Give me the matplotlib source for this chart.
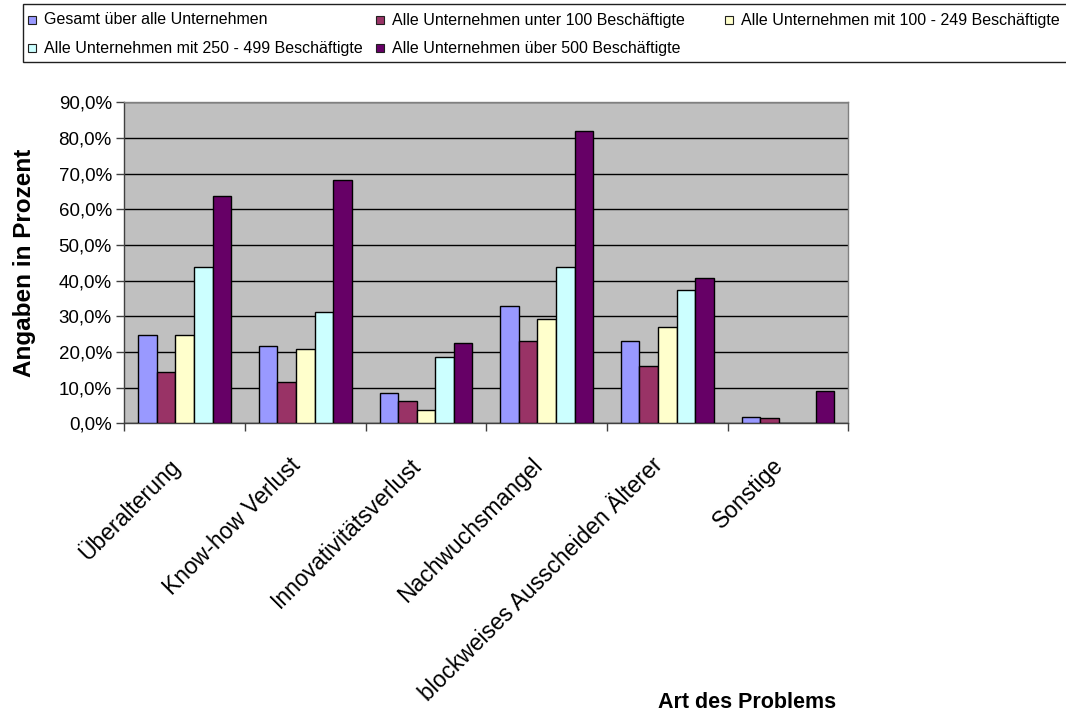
import numpy as np
import matplotlib
matplotlib.use("Agg")
import matplotlib.pyplot as plt
from matplotlib.patches import Rectangle
from matplotlib.ticker import FixedLocator, FuncFormatter

plt.rcParams['font.family'] = ['Liberation Sans', 'DejaVu Sans']

categories = ["Überalterung", "Know-how Verlust", "Innovativitätsverlust",
              "Nachwuchsmangel", "blockweises Ausscheiden Älterer", "Sonstige"]
series_names = ["Gesamt über alle Unternehmen",
                "Alle Unternehmen unter 100 Beschäftigte",
                "Alle Unternehmen mit 100 - 249 Beschäftigte",
                "Alle Unternehmen mit 250 - 499 Beschäftigte",
                "Alle Unternehmen über 500 Beschäftigte"]
gesamt   = [24.8, 21.8, 8.6, 32.9, 23.2, 1.9]
unter100 = [14.3, 11.6, 6.3, 23.1, 16.1, 1.4]
mit100   = [24.8, 20.7, 3.7, 29.2, 26.9, 0.0]
mit250   = [43.7, 31.3, 18.7, 43.7, 37.3, 0.0]
ueber500 = [63.7, 68.2, 22.4, 82.0, 40.7, 9.0]
yticks = [0, 10, 20, 30, 40, 50, 60, 70, 80, 90]

series = [gesamt, unter100, mit100, mit250, ueber500]
colors = ["#9999FF", "#993366", "#FFFFCC", "#CCFFFF", "#660066"]

W, H = 1066, 716
fig = plt.figure(figsize=(W / 100, H / 100), dpi=100)
fig.patch.set_facecolor("white")

ax_l, ax_r, ax_t, ax_b = 124.3, 848.3, 102.3, 423.3
ax = fig.add_axes([ax_l / W, 1 - ax_b / H, (ax_r - ax_l) / W, (ax_b - ax_t) / H])
ax.set_facecolor("#C0C0C0")

x = np.arange(len(categories))
bw = 0.154
n = len(series)
for i, (vals, c) in enumerate(zip(series, colors)):
    ax.bar(x + (i - (n - 1) / 2) * bw, vals, width=bw, color=c,
           edgecolor="black", linewidth=1.0, zorder=3)

ax.set_xlim(-0.5, len(categories) - 0.5)
ax.set_ylim(0, 90)
ax.yaxis.set_major_locator(FixedLocator(yticks))
ax.yaxis.set_major_formatter(FuncFormatter(lambda v, p: f"{v:.1f}%".replace(".", ",")))
ax.grid(axis="y", color="black", linewidth=1.0, zorder=1)
ax.set_axisbelow(True)

ax.set_xticks(np.arange(-0.5, len(categories)))
ax.set_xticklabels([])
ax.set_xticks(x, minor=True)
ax.set_xticklabels(categories, minor=True, rotation=45, ha="right", va="top",
                   fontsize=16.5)
ax.tick_params(axis="x", which="minor", length=0, pad=22)
ax.tick_params(axis="x", which="major", direction="out", length=5.5, width=1,
               color="#404040")
ax.tick_params(axis="y", direction="out", length=5.5, width=1, color="#404040",
               labelsize=13.5, pad=3.5)

for s in ["left", "bottom"]:
    ax.spines[s].set_color("#404040")
    ax.spines[s].set_linewidth(1.0)
for s in ["top", "right"]:
    ax.spines[s].set_color("#808080")
    ax.spines[s].set_linewidth(1.0)

ax.set_ylabel("Angaben in Prozent", fontsize=17.5, fontweight="bold")
ax.yaxis.set_label_coords((36 - ax_l) / (ax_r - ax_l), 0.5)
fig.text(747 / W, 1 - 702 / H, "Art des Problems", fontsize=15.5,
         fontweight="bold", ha="center", va="center")

# legend box
fig.patches.append(Rectangle((23 / W, 1 - 62 / H), (1075 - 23) / W, 58 / H,
                             transform=fig.transFigure, facecolor="white",
                             edgecolor="#202020", linewidth=1.0, zorder=0))
leg_pos = [(28, 20), (376, 20), (725, 20), (28, 48), (376, 48)]
for name, c, (px, py) in zip(series_names, colors, leg_pos):
    fig.patches.append(Rectangle((px / W, 1 - (py + 4) / H), 8 / W, 8 / H,
                                 transform=fig.transFigure, facecolor=c,
                                 edgecolor="#202020", linewidth=0.8, zorder=2))
    fig.text((px + 16) / W, 1 - py / H, name, fontsize=11.5, ha="left",
             va="center")

fig.savefig("out.png", dpi=100)
